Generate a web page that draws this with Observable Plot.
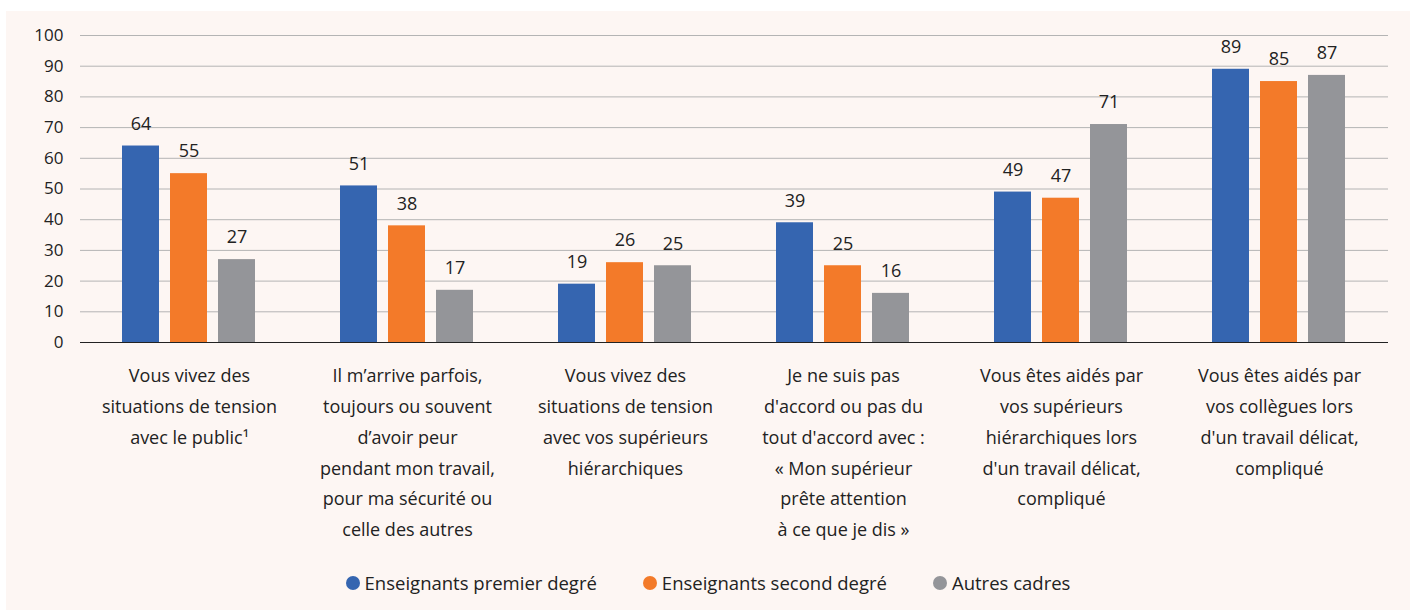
<!DOCTYPE html>
<html>
<head>
<meta charset="utf-8">
<script src="https://cdn.jsdelivr.net/npm/d3@7"></script>
<script src="https://cdn.jsdelivr.net/npm/@observablehq/plot@0.6"></script>
<style>
  html, body { margin: 0; padding: 0; background: #ffffff; }
  #frame { position: absolute; left: 6px; top: 11px; width: 1404px; height: 599px; background: #fdf6f3; }
  #chart svg { display: block; }
  #legend { position: absolute; left: 0; top: 559px; width: 1404px; display: flex; justify-content: center; gap: 46px;
            font-family: "Open Sans", sans-serif; font-size: 18.5px; color: #222; }
  #legend .item { display: flex; align-items: center; gap: 5px; }
  #legend .dot { width: 14px; height: 14px; border-radius: 50%; display: inline-block; }
</style>
</head>
<body>
<div id="frame">
  <div id="chart"></div>
  <div id="legend"></div>
</div>
<script>
const categories = [
  "Vous vivez des\nsituations de tension\navec le public\u00b9",
  "Il m\u2019arrive parfois,\ntoujours ou souvent\nd\u2019avoir peur\npendant mon travail,\npour ma s\u00e9curit\u00e9 ou\ncelle des autres",
  "Vous vivez des\nsituations de tension\navec vos sup\u00e9rieurs\nhi\u00e9rarchiques",
  "Je ne suis pas\nd'accord ou pas du\ntout d'accord avec :\n\u00ab Mon sup\u00e9rieur\npr\u00eate attention\n\u00e0 ce que je dis \u00bb",
  "Vous \u00eates aid\u00e9s par\nvos sup\u00e9rieurs\nhi\u00e9rarchiques lors\nd'un travail d\u00e9licat,\ncompliqu\u00e9",
  "Vous \u00eates aid\u00e9s par\nvos coll\u00e8gues lors\nd'un travail d\u00e9licat,\ncompliqu\u00e9"
];
const series = ["Enseignants premier degré", "Enseignants second degré", "Autres cadres"];
const premierDegre = [64, 51, 19, 39, 49, 89];
const secondDegre = [55, 38, 26, 25, 47, 85];
const autresCadres = [27, 17, 25, 16, 71, 87];
const colors = ["#3565b0", "#f37a29", "#949599"];
const yTicks = [0, 10, 20, 30, 40, 50, 60, 70, 80, 90, 100];

const valuesBySeries = [premierDegre, secondDegre, autresCadres];
const data = [];
categories.forEach((c, i) => {
  series.forEach((s, j) => data.push({category: c, series: s, value: valuesBySeries[j][i]}));
});

const font = "'Open Sans', sans-serif";
const plot = Plot.plot({
  width: 1404,
  height: 545,
  marginLeft: 73,
  marginRight: 22,
  marginTop: 24,
  marginBottom: 214,
  style: {background: "transparent", fontFamily: font, fontSize: "17px", color: "#222"},
  fx: {domain: categories, padding: 0, axis: null},
  x: {domain: series, paddingInner: 0.22, paddingOuter: 0.85, axis: null},
  y: {domain: [0, 100], axis: null},
  color: {domain: series, range: colors},
  marks: [
    Plot.gridY(yTicks, {stroke: "#b4b4b4", strokeOpacity: 1, strokeWidth: 1}),
    Plot.barY(data, {fx: "category", x: "series", y: "value", fill: "series"}),
    Plot.text(data, {fx: "category", x: "series", y: "value", text: d => String(d.value), dy: -22, fontSize: 18, fill: "#222", fontFamily: font}),
    Plot.ruleY([0], {stroke: "#222", strokeWidth: 1.2}),
    Plot.axisY(yTicks, {tickSize: 0, tickPadding: 17, fontSize: 17, label: null, tickFormat: d => String(d), fill: "#222"}),
    Plot.axisFx({anchor: "bottom", tickSize: 0, tickPadding: 18, lineHeight: 1.71, fontSize: 18, label: null, fill: "#222"})
  ]
});
document.getElementById("chart").appendChild(plot);

const legend = document.getElementById("legend");
series.forEach((s, j) => {
  const item = document.createElement("div");
  item.className = "item";
  const dot = document.createElement("span");
  dot.className = "dot";
  dot.style.background = colors[j];
  const label = document.createElement("span");
  label.textContent = s;
  item.appendChild(dot);
  item.appendChild(label);
  legend.appendChild(item);
});
</script>
</body>
</html>
